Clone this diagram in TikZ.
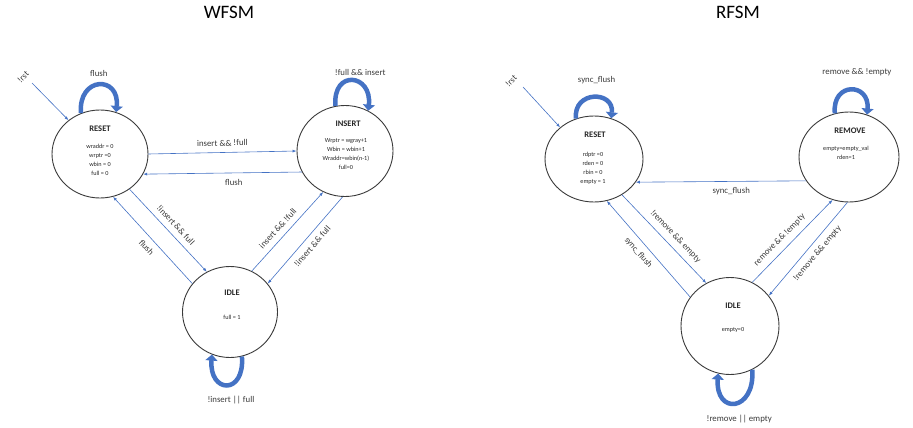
\documentclass[tikz,border=0pt]{standalone}
\usepackage{fontspec}
\setmainfont{Carlito}
\usetikzlibrary{
	positioning
	,arrows.meta
	,shapes.geometric
}
\definecolor{fsmblue}{HTML}{4472C4}
\definecolor{fsmgray}{HTML}{3A3A3A}
\newcommand{\fsmedge}[4][]{
	\draw[trans] (#2) -- node[lbl,sloped,#1]{#4} (#3);
}
\tikzset{
	state/.style={
		draw=fsmgray
		,ellipse
		,line width=0.9pt
		,minimum width=96pt
		,minimum height=90pt
		,inner sep=0pt
	},
	statename/.style={
		font=\fontsize{8.5}{10}\selectfont\bfseries
		,text=black!85
		,inner sep=0pt
	},
	statevars/.style={
		font=\fontsize{6.2}{9}\selectfont
		,align=center
		,text=black!85
		,inner sep=0pt
	},
	lbl/.style={
		font=\fontsize{8.8}{10}\selectfont
		,text=fsmgray
		,inner sep=1.5pt
	},
	fsmtitle/.style={
		font=\fontsize{19}{22}\selectfont
		,inner sep=0pt
	}
}
\tikzset{
	trans/.style={
		draw=fsmblue
		,line width=0.6pt
		,-{Latex[length=4pt,width=3pt]}
	},
	selfloop/.style={
		draw=fsmblue
		,line width=4.5pt
		,-{Triangle[length=6pt,width=12pt]}
	}
}

\begin{document}
\begin{tikzpicture}[x=1pt,y=-1pt]
	\useasboundingbox (0,0) rectangle (913,428);
	
	\node[fsmtitle](wtitle) at(229,12.5){WFSM};
	\node[fsmtitle](rtitle) at(738,12.5){RFSM};
	
	% write side
	\node[state,minimum height=88pt](wreset) at(100,154){};
	\node[state,minimum height=91pt](winsert) at(345,151){};
	\node[state,minimum width=95pt,minimum height=91pt](widle) at(230,312){};
	
	\node[statename](wresetname) at(100,128.5){RESET};
	\node[statevars](wresetvars) at(100,159.5){wraddr = 0\\wrptr =0\\wbin = 0\\full = 0};
	\node[statename](winsertname) at(348,123.5){INSERT};
	\node[statevars](winsertvars) at(346,154){Wrptr = wgray+1\\Wbin = wbin+1\\Wraddr=wbin(n-1)\\full=0};
	\node[statename](widlename) at(232,293){IDLE};
	\node[statevars](widlevars) at(232,317){full = 1};
	
	% read side
	\node[state,minimum width=98pt,minimum height=86pt](rreset) at(594,159){};
	\node[state,minimum width=100pt,minimum height=90pt](rremove) at(849,157){};
	\node[state,minimum width=98pt,minimum height=97pt](ridle) at(730,326){};
	
	\node[statename](rresetname) at(595,135){RESET};
	\node[statevars](rresetvars) at(593,168){rdptr =0\\rden = 0\\rbin = 0\\empty = 1};
	\node[statename](rremovename) at(850,131){REMOVE};
	\node[statevars](rremovevars) at(846,153){empty=empty\_val\\rden=1};
	\node[statename](ridlename) at(733,306){IDLE};
	\node[statevars](ridlevars) at(733,330){empty=0};
	
	% reset inputs
	\coordinate (wrst) at(32,83);
	\coordinate (rrst) at(523,87);
	\draw[trans] (wrst) -- (wreset.133);
	\draw[trans] (rrst) -- (rreset.137);
	\node[lbl,rotate=45](wrstlbl) at(23,77){!rst};
	\node[lbl,rotate=45](rrstlbl) at(511,81){!rst};
	
	% transitions
	\foreach \a/\b/\p/\txt in{
		wreset.0/winsert.180/.5/{insert \&\& !full},
		wreset.310/widle.120/.51/{!insert \&\& full},
		widle.62/winsert.242/.46/{insert \&\& !full},
		rreset.308/ridle.119/.55/{!remove \&\& empty},
		ridle.63/rremove.249/.43/{remove \&\& !empty}%
	}{
		\fsmedge[above=4.5pt,pos=\p]{\a}{\b}{\txt};
	}
	\foreach \a/\b/\p/\txt in{
		winsert.206/wreset.335/.43/{flush},
		widle.143/wreset.287/.49/{flush},
		winsert.267/widle.37/.5/{!insert \&\& full},
		rremove.209/rreset.331/.44/{sync\_flush},
		ridle.144/rreset.287/.53/{sync\_flush},
		rremove.268/ridle.38/.48/{!remove \&\& empty}%
	}{
		\fsmedge[below=4.5pt,pos=\p]{\a}{\b}{\txt};
	}
	
	% self loops
	\draw[selfloop] (wreset.115) .. controls +(-3,-37) and +(4,-37) .. (wreset.69)
		node[lbl,pos=.5,above=5pt]{flush};
	\draw[selfloop] (winsert.102) .. controls +(-3,-37) and +(4,-37) .. (winsert.60)
		node[lbl,pos=.5,above=1pt,xshift=8pt]{!full \&\& insert};
	\draw[selfloop] (widle.285) .. controls +(3,39) and +(-3,39) .. (widle.247)
		node[lbl,pos=.5,below=8pt,xshift=4pt]{!insert || full};
	\draw[selfloop] (rreset.114) .. controls +(-3,-28) and +(3,-28) .. (rreset.67)
		node[lbl,pos=.5,above=10pt,xshift=3pt]{sync\_flush};
	\draw[selfloop] (rremove.108) .. controls +(-3,-32) and +(3,-32) .. (rremove.67)
		node[lbl,pos=.5,above=10pt,xshift=6pt]{remove \&\& !empty};
	\draw[selfloop] (ridle.297) .. controls +(3,42) and +(-3,42) .. (ridle.256)
		node[lbl,pos=.5,below=8pt,xshift=4pt]{!remove || empty};
	
\end{tikzpicture}
\end{document}
